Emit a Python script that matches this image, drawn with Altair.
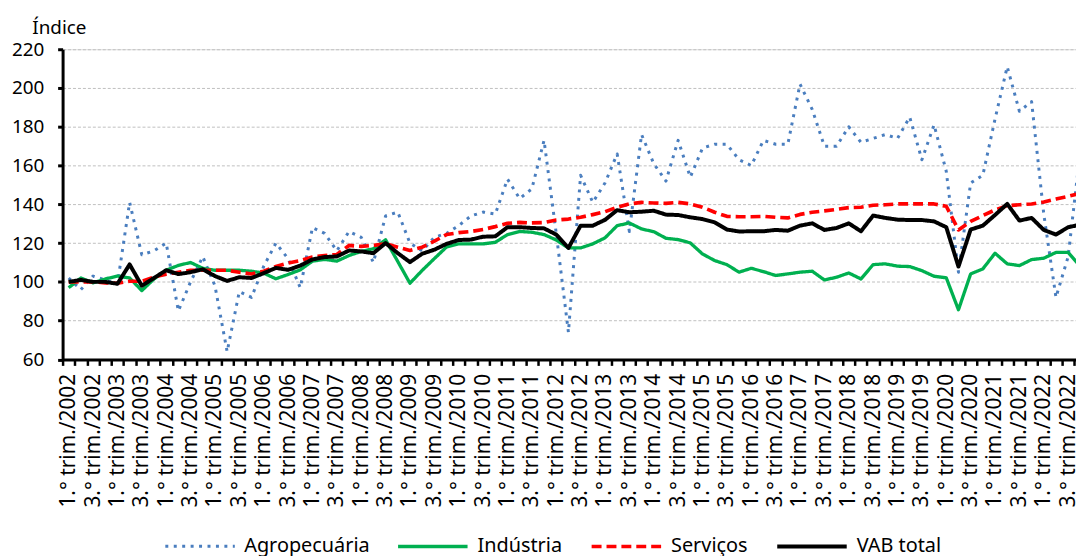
import json
import altair as alt
import pandas as pd

# ---------------- data ----------------
anos = list(range(2002, 2023))
trimestres = [f"{q}.° trim./{a}" for a in anos for q in (1, 2, 3, 4)]
# only 1st and 3rd quarters are labelled on the axis
rotulos = [t if t.startswith(("1.", "3.")) else "" for t in trimestres]

agropecuaria = [102, 96, 103, 101, 99, 141, 114, 116, 120, 85,
                100, 113, 98, 64, 95, 92, 108, 120, 112, 97,
                128, 125, 116, 126, 123, 110, 134, 136, 120, 116,
                123, 125, 129, 134, 136, 135, 153, 143, 148, 173,
                125, 74, 155, 141, 151, 166, 126, 176, 161, 152,
                173, 154, 169, 171, 171, 163, 160, 173, 171, 171,
                202, 189, 170, 170, 180, 172, 174, 176, 174, 185,
                163, 181, 157, 105, 151, 155, 184, 211, 188, 193,
                135, 92, 113, 168]

industria = [97, 102, 99.5, 101.5, 103, 102, 95.5, 101.5, 106, 108.5,
             110, 107, 106, 106, 106, 105.5, 104.5, 101.6, 103.8, 106.2,
             110.7, 111.6, 110.7, 113.6, 115.7, 117.1, 121.7, 110.5, 99.3, 105.9,
             112, 118, 119.6, 119.6, 119.6, 120.4, 124.4, 126, 125.6, 124.4,
             121.6, 117.5, 117.5, 119.6, 122.7, 129, 130.4, 127.3, 125.9, 122.5,
             121.8, 120.1, 114.4, 111, 108.9, 105, 107, 105.3, 103.3, 104.1,
             105, 105.5, 101, 102.4, 104.6, 101.5, 108.9, 109.3, 108.1, 107.9,
             105.8, 102.9, 102.1, 85.6, 104.1, 106.7, 114.8, 109.3, 108.4, 111.5,
             112.2, 115.2, 115.2, 108]

servicos = [100, 100, 100, 99.5, 99.3, 100.3, 100.3, 102.5, 104, 105,
            106, 106, 106, 106, 105, 104.1, 105.5, 107.9, 109.7, 111,
            112.8, 113.6, 114.1, 118.8, 118.3, 118.8, 119.7, 117.9, 116.2, 117.9,
            121, 124.4, 125.4, 126, 127, 128.5, 130.2, 130.7, 130.4, 130.6,
            131.9, 132.4, 133.3, 134.7, 136.2, 138.5, 140.2, 141, 140.7, 140.5,
            141, 140.2, 138.5, 135.9, 133.8, 133.6, 133.6, 133.8, 133.3, 133,
            134.8, 135.9, 136.6, 137.4, 138.3, 138.5, 139.5, 139.8, 140.2, 140.2,
            140.2, 140.2, 139, 126.8, 131.2, 134.2, 137.1, 139.3, 139.8, 140.2,
            141.2, 142.7, 144.1, 145.7]

vab_total = [100, 101, 100, 100, 99, 109, 98, 102, 106, 104,
             105, 106.5, 103, 100.5, 102.4, 102, 104.5, 107.2, 106.2, 108.4,
             111.6, 112.8, 113.1, 116.2, 115.7, 114.8, 120, 114.8, 110.2, 114.5,
             116.6, 119.6, 121.6, 121.8, 123.3, 123.5, 128.2, 128.2, 127.8, 127.6,
             124.4, 117.5, 129, 129, 132, 137, 135.9, 136.2, 136.7, 134.7,
             134.5, 133.3, 132.4, 130.7, 127, 126, 126.1, 126.1, 126.8, 126.4,
             129, 130.2, 126.8, 127.8, 130.2, 126.1, 134.2, 133, 132.1, 131.9,
             131.9, 131.2, 128.2, 107.9, 127, 129, 134.5, 140.2, 131.6, 133,
             126.8, 124.4, 128.2, 129.5]

series = ["Agropecuária", "Indústria", "Serviços", "VAB total"]
valores = [agropecuaria, industria, servicos, vab_total]
cores = ["#4A7EBF", "#00B050", "#FF0000", "#000000"]
tracos = [[3, 5.5], [1, 0], [10, 5], [1, 0]]
larguras = [3, 4, 4, 3.5]
y_ticks = list(range(60, 221, 20))

rows = []
for s, vals in zip(series, valores):
    for i, v in enumerate(vals):
        rows.append({"serie": s, "i": i, "trimestre": trimestres[i], "valor": v})
df = pd.DataFrame(rows)

FONT = "Noto Sans"
W = 1021
H = 312.5
band = 12.28
xmax = -0.5 + W / band

label_expr = json.dumps(rotulos, ensure_ascii=False) + "[datum.value + 0.5] || ''"

leg = alt.Legend(
    orient="none", legendX=102, legendY=464, direction="horizontal", title=None,
    symbolType="stroke", symbolSize=4900, labelFontSize=20, labelFont=FONT,
    labelColor="black", labelOffset=8, columnPadding=21, padding=0,
)

chart = alt.Chart(df).mark_line(strokeCap="butt", strokeJoin="round", clip=True).encode(
    x=alt.X(
        "i:Q",
        scale=alt.Scale(domain=[-0.5, xmax], nice=False, zero=False),
        axis=alt.Axis(
            values=[k - 0.5 for k in range(84)], labelExpr=label_expr,
            labelAngle=270, labelAlign="right", labelBaseline="middle",
            labelOffset=band / 2, labelPadding=8, labelFontSize=21, labelFont=FONT,
            labelColor="black", labelFlush=False, labelOverlap=False, labelBound=False,
            tickSize=6, tickWidth=2.5, tickColor="black",
            domainColor="black", domainWidth=3, grid=False, title=None,
        ),
    ),
    y=alt.Y(
        "valor:Q",
        scale=alt.Scale(domain=[60, 220], nice=False, zero=False),
        axis=alt.Axis(
            values=y_ticks, title="Índice", titleAngle=0, titleAlign="left",
            titleBaseline="alphabetic", titleX=-31, titleY=-16, titleFontSize=19,
            titleFont=FONT, titleFontWeight="normal", titleColor="black",
            labelFontSize=19, labelFont=FONT, labelColor="black", labelPadding=14,
            tickSize=5, tickWidth=3, tickColor="black",
            domainColor="black", domainWidth=3,
            grid=True, gridDash=[3, 2], gridColor="#BFBFBF", gridWidth=1,
        ),
    ),
    color=alt.Color("serie:N", scale=alt.Scale(domain=series, range=cores), legend=leg),
    strokeDash=alt.StrokeDash("serie:N", scale=alt.Scale(domain=series, range=tracos), legend=leg),
    strokeWidth=alt.StrokeWidth("serie:N", scale=alt.Scale(domain=series, range=larguras), legend=leg),
    order=alt.Order("i:Q"),
).properties(
    width=W, height=H,
    autosize=alt.AutoSizeParams(type="none"),
    padding={"left": 55, "top": 39.5, "right": 0, "bottom": 196},
).configure_view(stroke=None).configure(font=FONT)

chart.save("out.html", embed_options={"renderer": "svg", "actions": False})
